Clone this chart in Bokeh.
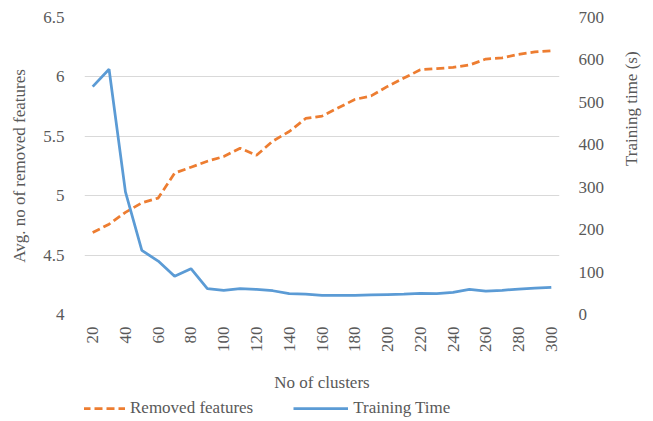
import math
from bokeh.plotting import figure
from bokeh.layouts import column
from bokeh.models import (Range1d, LinearAxis, FixedTicker, Legend, LegendItem)
from bokeh.embed import file_html
from bokeh.resources import INLINE

clusters = [20, 30, 40, 50, 60, 70, 80, 90, 100, 110, 120, 130, 140, 150, 160,
            170, 180, 190, 200, 210, 220, 230, 240, 250, 260, 270, 280, 290, 300]
removed_features = [4.69, 4.76, 4.86, 4.94, 4.98, 5.19, 5.24, 5.29, 5.33, 5.40,
                    5.34, 5.46, 5.54, 5.65, 5.67, 5.74, 5.81, 5.84, 5.92, 5.99,
                    6.06, 6.07, 6.08, 6.10, 6.15, 6.16, 6.19, 6.21, 6.22]
training_time = [537, 578, 289, 151, 126, 90, 108, 61, 57, 61, 59, 56, 49, 48, 45,
                 45, 45, 46, 47, 48, 50, 49, 52, 59, 55, 57, 60, 62, 64]
x_ticks = [20, 40, 60, 80, 100, 120, 140, 160, 180, 200, 220, 240, 260, 280, 300]
left_ticks = [4, 4.5, 5, 5.5, 6, 6.5]
left_tick_labels = ["4", "4.5", "5", "5.5", "6", "6.5"]
right_ticks = [0, 100, 200, 300, 400, 500, 600, 700]
series_names = ["Removed features", "Training Time"]

FONT = "Liberation Serif"
TXT = "#595959"
ORANGE = "#ED7D31"
BLUE = "#5B9BD5"
DASH = "8 4"
LW = 2.75

p = figure(width=653, height=395, output_backend="svg", toolbar_location=None,
           x_range=Range1d(15, 305), y_range=Range1d(4, 6.5),
           min_border_left=84, min_border_right=90, min_border_top=17,
           min_border_bottom=79, outline_line_color=None)
p.extra_y_ranges = {"t": Range1d(0, 700)}

p.line(clusters, removed_features, line_color=ORANGE, line_width=LW, line_dash=DASH)
p.line(clusters, training_time, line_color=BLUE, line_width=LW, y_range_name="t")

p.xgrid.visible = False
p.ygrid.ticker = FixedTicker(ticks=left_ticks)
p.ygrid.grid_line_color = "#D9D9D9"
p.ygrid.grid_line_width = 1

def style_axis(ax):
    ax.axis_line_color = None
    ax.major_tick_line_color = None
    ax.minor_tick_line_color = None
    ax.major_tick_out = 0
    ax.major_tick_in = 0
    ax.minor_tick_out = 0
    ax.minor_tick_in = 0
    ax.major_label_text_font = FONT
    ax.major_label_text_font_size = "17px"
    ax.major_label_text_color = TXT
    ax.axis_label_text_font = FONT
    ax.axis_label_text_font_size = "17px"
    ax.axis_label_text_color = TXT
    ax.axis_label_text_font_style = "normal"

xa = p.xaxis[0]
style_axis(xa)
xa.ticker = FixedTicker(ticks=x_ticks)
xa.major_label_orientation = math.pi / 2
xa.major_label_standoff = 12
xa.axis_label = "No of clusters"
xa.axis_label_standoff = 18

ya = p.yaxis[0]
style_axis(ya)
ya.ticker = FixedTicker(ticks=left_ticks)
ya.major_label_overrides = {t: s for t, s in zip(left_ticks, left_tick_labels)}
ya.major_label_standoff = 20
ya.axis_label = "Avg. no of removed features"
ya.axis_label_standoff = 11

ra = LinearAxis(y_range_name="t", ticker=FixedTicker(ticks=right_ticks),
                axis_label="Training time (s)")
style_axis(ra)
ra.major_label_standoff = 19
ra.axis_label_standoff = 24
ra.axis_label_orientation = math.pi / 2
p.add_layout(ra, "right")

# legend strip below the chart: same series, drawn outside its (empty) view
pl = figure(width=653, height=26, output_backend="svg", toolbar_location=None,
            x_range=Range1d(0, 1), y_range=Range1d(0, 1),
            x_axis_location=None, y_axis_location=None,
            min_border=0, outline_line_color=None)
pl.xgrid.visible = False
pl.ygrid.visible = False
l1 = pl.line(clusters, removed_features, line_color=ORANGE, line_width=LW,
             line_dash=DASH)
l2 = pl.line(clusters, training_time, line_color=BLUE, line_width=LW)

legend = Legend(items=[LegendItem(label=series_names[0], renderers=[l1]),
                       LegendItem(label=series_names[1], renderers=[l2])],
                orientation="horizontal", location=(-14, 3),
                label_text_font=FONT, label_text_font_size="17px",
                label_text_color=TXT, glyph_width=55, glyph_height=20,
                label_height=20, label_standoff=5, spacing=40, padding=0,
                margin=0, border_line_color=None, background_fill_alpha=0)
pl.add_layout(legend, "center")

open("out.html", "w").write(file_html(column(p, pl), INLINE))
